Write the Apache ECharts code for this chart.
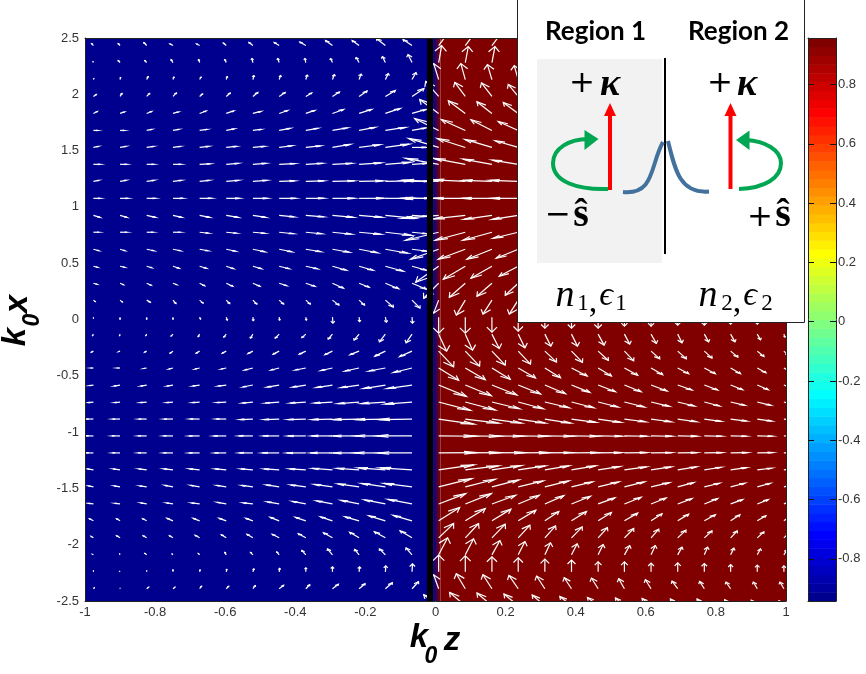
<!DOCTYPE html>
<html lang="en">
<head>
  <meta charset="UTF-8">
  <title>Spin-momentum field</title>
  <style>
    html, body { margin: 0; padding: 0; background: #fff; }
    #main { width: 866px; height: 674px; }
  </style>
</head>
<body>
<div id="main"></div>
<script src="https://cdn.jsdelivr.net/npm/echarts@6/dist/echarts.min.js"></script>
<script>
// arrow tails, k0z per column and k0x per row
var gridZ = [-0.976,-0.900,-0.824,-0.749,-0.673,-0.597,-0.521,-0.446,-0.370,-0.294,-0.218,-0.143,-0.067,
  0.009,0.085,0.161,0.236,0.312,0.388,0.464,0.539,0.615,0.691,0.767,0.842,0.918,0.994];
var gridX = [2.433,2.282,2.131,1.981,1.830,1.679,1.528,1.378,1.227,1.076,0.925,0.775,0.624,0.473,0.322,0.172,0.021,
  -0.130,-0.281,-0.431,-0.582,-0.733,-0.884,-1.034,-1.185,-1.336,-1.487,-1.638,-1.788,-1.939,-2.090,-2.241,-2.391,-2.542];

// field components, one line per row (top rows stop where the inset hides them)
var fieldU = [
  [-2,-2,-3,-3,-3,-3,-4,-5,-6,-7,-7,-9,-9,9,9,9],
  [-0.5,-2,-2,-2,-1,-1.5,-1,-1.5,-1,-2,-3,-3,-4,3,3,3],
  [0.5,0.5,1.5,1,1.5,1,1,1.5,1.5,2,2,3,4,-5,-4.5,-4.5,-4],
  [3,2,3,3.5,3,4,5,6,6,7,8,10,12,-13,-10.5,-10.5,-10],
  [4,4.5,5,5.5,6.5,7.5,8,8.5,9,11,12.5,15,14,-19,-17,-15,-15],
  [4,4,5,6,7.5,8,8,11,12,15,16,20,14,-24,-24,-21,-20],
  [5,6,7,7.5,9,10,11.5,13,14.7,17.7,20.7,23.7,14,-30,-28,-27,-23],
  [6.5,6.5,7,8,10.5,12,13,15.7,16.7,19.5,22,25,15,-33,-32,-29,-26],
  [5.3,6,7.5,8.5,10,12.5,14,15.3,18,22,24,27,17,-37,-32,-29,-28],
  [6.7,8,8.7,10,12,13,14.5,16.7,18,22,25,30,18,-38,-32,-30,-27],
  [6.7,7,8.7,8.7,10,12,13,15,18,21,23,30,15,-37,-32,-28,-26],
  [5.5,7,6.5,7.5,9,10.5,12,14.5,15.7,19,21.7,26,15,-33,-30,-29,-25],
  [5.5,5,7.3,7.5,8.5,9.5,12,12.7,15,16.7,18.5,22.5,15,-28,-27,-25,-22],
  [4,4.5,5,6,6.7,7.5,8.5,10,11.7,14,14,18,14.5,-23,-22,-21,-19],
  [3.5,3.5,4.5,4,5,6.5,7,7.7,9,11,10,13.3,14.5,-15,-16,-15,-13],
  [2,2.5,3.5,3,3.5,3.5,4,4.5,4.5,6.5,5.5,8,8,-5,-9,-9,-9],
  [0,0,0,0,1,1,0.5,0.5,0.5,0.5,0.5,1,0.5,0,0,0,0,0,0,0,0,0,0,0,0,0,0],
  [-1,-0.5,-1,-2,-1.5,-2.5,-2.5,-4,-4,-4.3,-5,-6,-6,8,7.3,7.3,6.7,6,6,6,5.3,5.3,4.3,4.3,4.3,3.3,1],
  [-2,-1.5,-2,-3,-3.5,-4,-5,-6,-6.5,-7.5,-9,-10.5,-12.5,15,14.3,13.3,12.3,11.7,11,10.3,9.3,8.7,8.7,7.7,7.3,6.7,4],
  [-2,-2.5,-3,-4,-4.5,-5,-8,-8,-10.5,-11.5,-14,-16.5,-18.5,20,20,18.3,17.3,15.7,15.7,13.3,13.3,11.7,11,11,10,8.7,7],
  [-4,-6,-6,-6,-7,-8,-10,-12,-13,-16,-18,-22,-25,27.7,26,25,22.3,20.7,18.3,17.3,16.7,16,14.3,13.3,12,11,9],
  [-5,-5,-6,-6,-7,-9.5,-10.5,-14,-15.5,-18,-21,-24,-27,31.7,30,27.7,25,24.3,22.3,20,20,18.3,16.7,15.3,14.3,13.7,11],
  [-7,-7.5,-8,-9,-9.5,-10,-12.5,-15,-18,-20.5,-26,-30,-33,35,33.3,29.3,27,25.7,24.3,22.7,21,20,18.7,16.7,16,14.3,12],
  [-7,-8,-8.5,-9.5,-10.5,-12.5,-14,-16,-18,-21,-26,-30,-35,37,35,31,29,27.7,26.7,24.3,22.7,21,19.3,17.7,16,15.3,13],
  [-7,-7.5,-8.5,-9.5,-10.5,-11.5,-13.5,-17,-19,-22,-26,-31,-34,38,35,33,30.7,27.7,27.7,23.3,22.7,21,19.3,17.7,16.7,15.3,13],
  [-6,-7,-8,-9,-10,-11,-12,-15,-16,-20,-22,-27,-32,35,33,29.3,27,24,24,21.7,22,20,18.7,17,16,14.3,12],
  [-5,-6,-7,-8,-9,-9.5,-11,-13,-15,-18,-21,-24,-28,33,30,27,25,24,21,20.7,20,18.3,16,15.3,14.3,13.3,11],
  [-5,-5,-6,-6.5,-8,-9,-9.5,-12,-13.5,-16,-18,-21,-24,27,26,23.7,21,19,19,16.7,16.7,15,14.3,13.3,12,11,9],
  [-4,-3.5,-4,-6,-6.5,-7,-7,-9,-10.5,-12,-14,-16.5,-19,21,20,19,17.7,14,15,13.3,13.3,11,11,11,9.3,8.7,7],
  [-2.5,-3.5,-3.5,-3.5,-4.5,-5,-6,-7,-7.5,-9,-9.5,-11,-12,15,13.3,13.3,11.7,10.7,10.7,9.3,9.3,7.7,8.3,7.7,6.7,6.7,6],
  [-1,-0.5,-2,-1,-1.5,-1.5,-2.5,-2.5,-4,-5,-4.5,-6,-6,9,8.3,8,6.7,5.7,5.7,5,5.3,4.3,4.3,3.3,3.3,3.3,3],
  [0,-0.5,0,0,0.5,0.5,1,0.5,0,0,0.5,0.5,0.5,0,0,0,0,0,0,0,0,0,0,0,0,0,0],
  [1,0,2,2,2,2.5,2.5,4.5,4,6,6,7,6.5,-5,-9,-9,-9.3,-8.3,-7.3,-6.7,-5.7,-5.7,-5.7,-4.7,-4.7,-4,-4],
  [0,0,0,0,0,0,0,0,0,0,0,0,0,-15,-15.7,-15,-14.3,-12.7,-11.7,-10.7,-9,-9,-7.3,-7.3,-6,-6,-5]
];
var fieldV = [
  [2,2,3,1.5,1.5,2.5,3,3,3.5,5,5,7,6,12,12,12],
  [1,2,2,3,3,3,4,4,4,4,5,6,8,17,16,16],
  [1,2,3,2.5,2.5,3,4,4,4.5,5,5.5,6,7,16,16,15,14],
  [2,3,3,3.5,2.5,3.5,4,4,3.5,4.5,5.5,6,8,15,14,13.5,12],
  [2,1.5,2,1.5,2.5,2.5,2,3,3,4,4,5,4,14,12.7,11.7,11],
  [0,0,1,1,1,1.5,1,2,2,2.5,3,3,2.5,12,11,10.7,9],
  [1,1,1,1,1,1,1,1.7,1.5,3,2.7,3.3,0,9,9,8,6.7],
  [0,0,0,0,0.5,1,1,0.7,1,1,1.5,2,1,6,6,5.3,4.3],
  [1,1,1,1,1,1,1,0.5,0.5,0.5,0.5,0.5,0,1,1.5,1,1],
  [0,0,0,0,0,0,0,0,0,0,0,0,0,0,0,0,0],
  [-2,-2,-2,-2,-2,-2,-2,-1.5,-1.5,-2,-2,-3,-1,-3,-3.5,-4,-4],
  [0,0,0,0,-1,-1,-1,-1.5,-1.5,-2,-2,-3,-1.5,-8,-8,-8,-6],
  [-1.5,-1.5,-1.5,-1.5,-1.5,-2,-2.5,-2.5,-2.5,-3,-3.5,-4,-2,-10,-10,-10,-9],
  [-1,-1,-1.5,-2,-2,-2.5,-2.5,-2.5,-2.5,-4,-4,-5,-4,-16,-13,-12,-10],
  [-1,-1.5,-2,-1.5,-2.5,-3,-3,-2.5,-3,-5,-4,-5.5,-6,-15,-14,-13,-12],
  [-1.5,-2,-2,-3.5,-3,-3.5,-4,-4,-4,-5,-5,-7,-8,-13,-15,-14,-14],
  [-1,-2,-2,-2,-2,-3,-3.5,-3,-3,-6,-4.5,-5,-6,-16,-16,-15,-14,-11,-11,-11,-9,-9,-8,-8,-7,-7,-4],
  [-1.5,-1.5,-1.5,-2,-2.5,-3,-4,-4,-3.5,-5,-6,-7.7,-8.7,-17,-16,-14.3,-13.7,-12,-12,-11,-10,-9.3,-8.7,-7.7,-7.7,-5.7,-3],
  [-1,-0.5,-1,-2,-2,-2,-2.5,-3,-3,-3.5,-3.5,-5,-5.5,-15.7,-15,-14,-13,-11,-11.3,-9.3,-9.7,-7.7,-7.7,-7,-6,-5.3,-4],
  [0,0,-0.5,-1,-1,-1,-2,-2,-2,-2.5,-3,-3,-4.5,-12.3,-11.7,-11.3,-10,-9.7,-8,-8,-7.3,-6.7,-5.7,-5.7,-5.7,-4.7,-4],
  [-0.5,-1,-1,-1,-1,-1,-2,-2,-2,-2.5,-2.5,-3.5,-3.5,-11.3,-10.7,-10,-9,-8.7,-7.3,-6.7,-6.7,-6,-5,-5,-4.7,-4.7,-4],
  [-0.5,-0.5,-0.5,-0.5,-0.5,-0.5,-1,-1,-1,-1,-1.5,-1.5,-2,-8.3,-8,-6.7,-6.7,-5.7,-5.7,-5,-5,-4.3,-4,-4,-3.3,-3.3,-3],
  [0,0,0,0,0,0,-0.5,-0.5,-0.5,-0.5,-0.5,-0.5,-0.5,-5,-4,-4,-4,-4,-3.3,-3.3,-2.7,-2.7,-2.7,-2.3,-2,-2,-2],
  [0,0,0,0,0,0,0,0,0,0,0,0,0,-0.3,-0.3,-0.3,-0.3,-0.3,-0.3,-0.3,-0.3,-0.3,-0.3,-0.3,-0.3,-0.3,-0.3],
  [0,0,0,0,0,0,0,0,0,0,0,0,0,0.3,0.3,0.3,0.3,0.3,0.3,0.3,0.3,0.3,0.3,0.3,0.3,0.3,0.3],
  [1,1,1,1,1,1,1,1,1,1.5,1.5,2,2,5,4,4.3,4,4,4,3.3,3,3,3,2.7,2.3,1.7,1.5],
  [1,1,1,1.5,1.5,1.5,1.5,2,2,2.5,3,3.5,3.5,8.3,7.7,7,6,6,5,5,5,4.3,4.3,3.7,3.7,3.7,3],
  [0.5,0.5,1,1,1,1.5,1,2,2.5,3,3.5,4,4.5,10.3,10.3,8.7,8.7,8.3,7.7,6,6.7,6,5.3,5.3,4.3,4.3,4],
  [2,2,2,2.5,2.5,2.5,2.5,3.5,3.5,4,4,5,5.5,13.3,12.3,11.7,10.7,9.3,9.3,8.3,7.7,7,6.7,6,6,5,5],
  [1.5,2,2,2,2.5,3,3.5,3.5,4,5,5.5,6,7,14.3,14.3,13.7,12.7,12,11,10.3,9.3,8.7,7.7,7,7,6,6],
  [0.5,1,1.5,1,1.5,2.5,2.5,3,4.5,6,5.5,6,7,17,16,14.3,13.3,12,11,10.3,9.3,9.3,7.7,7.7,6.7,6,5],
  [1,0.5,1,2,2,2.5,3,3.5,4,5,5,6,8,16.7,16,15,14,12.7,11.7,10,10,8.7,9,8.3,7.3,6.7,6],
  [1,0.5,1.5,1.5,2.5,2.5,3,3.5,4,4.5,5,6,7,14,15,14,13.3,12.7,11,10.7,10,9,7.7,7.3,6.7,6.7,6.7],
  [0,0,0,0,0,0,0,0,0,0,0,0,0,11,13.3,12.7,11.7,10.7,9.3,8.3,7.7,7.3,6.7,6.7,6,5.5,5]
];

// background: field sign either side of the interface, with the short blend between them
var bgEdges = [-1, -0.007, 0.014, 1];
var bgValues = [-0.95, 0.95];
var interfaceEdges = [-0.0243, -0.007];

var xTickFont = 13;
var cbarMin = -0.942, cbarMax = 0.957;
var cbarTicks = [-0.8, -0.6, -0.4, -0.2, 0, 0.2, 0.4, 0.6, 0.8];
// jet, 64 steps
var jet64 = ['#00008f','#0000a0','#0000af','#0000bf','#0000cf','#0000df','#0000ef','#0000ff',
  '#0010ff','#0020ff','#0030ff','#0040ff','#0050ff','#0060ff','#0070ff','#0080ff',
  '#008fff','#009fff','#00afff','#00bfff','#00cfff','#00dfff','#00efff','#00ffff',
  '#10ffef','#20ffdf','#30ffcf','#40ffbf','#50ffaf','#60ff9f','#70ff8f','#80ff80',
  '#8fff70','#9fff60','#afff50','#bfff40','#cfff30','#dfff20','#efff10','#ffff00',
  '#ffef00','#ffdf00','#ffcf00','#ffbf00','#ffaf00','#ff9f00','#ff8f00','#ff8000',
  '#ff7000','#ff6000','#ff5000','#ff4000','#ff3000','#ff2000','#ff1000','#ff0000',
  '#ef0000','#df0000','#cf0000','#bf0000','#af0000','#9f0000','#8f0000','#800000'];

var quiverScaleZ = 1 / 350.5, quiverScaleX = 1 / 112.6;
var headAlpha = 0.33, headBeta = 0.33;

function jetColor(v) {
  var i = Math.floor((v - cbarMin) / (cbarMax - cbarMin) * 64);
  return jet64[Math.max(0, Math.min(63, i))];
}

var arrowData = [];
for (var r = 0; r < fieldU.length; r++) {
  for (var c = 0; c < fieldU[r].length; c++) {
    if (fieldU[r][c] === 0 && fieldV[r][c] === 0) continue;
    arrowData.push([gridZ[c], gridX[r], fieldU[r][c] * quiverScaleZ, fieldV[r][c] * quiverScaleX]);
  }
}

var myChart = echarts.init(document.getElementById('main'), null, { renderer: 'canvas' });

function renderBackground(params, api) {
  var i = api.value(0);
  var a = api.coord([bgEdges[i], 2.5]), b = api.coord([bgEdges[i + 1], -2.5]);
  var fill;
  if (i === 0) fill = jetColor(bgValues[0]);
  else if (i === 2) fill = jetColor(bgValues[1]);
  else fill = { type: 'linear', x: 0, y: 0, x2: 1, y2: 0, colorStops: [
    { offset: 0, color: jetColor(bgValues[0]) }, { offset: 1, color: jetColor(bgValues[1]) }] };
  return { type: 'rect', shape: { x: a[0], y: a[1], width: b[0] - a[0], height: b[1] - a[1] }, style: { fill: fill } };
}

function renderInterface(params, api) {
  var a = api.coord([interfaceEdges[0], 2.5]), b = api.coord([interfaceEdges[1], -2.5]);
  return { type: 'rect', shape: { x: a[0], y: a[1], width: b[0] - a[0], height: b[1] - a[1] }, style: { fill: '#000' } };
}

// same arrow shape as matlab quiver, built in data units
function renderArrow(params, api) {
  var z = api.value(0), x = api.value(1), u = api.value(2), v = api.value(3);
  var tz = z + u, tx = x + v;
  var b1 = api.coord([tz - headAlpha * (u + headBeta * v), tx - headAlpha * (v - headBeta * u)]);
  var b2 = api.coord([tz - headAlpha * (u - headBeta * v), tx - headAlpha * (v + headBeta * u)]);
  var tail = api.coord([z, x]), tip = api.coord([tz, tx]);
  var st = { stroke: '#fff', lineWidth: 1.2, fill: null };
  return { type: 'group', children: [
    { type: 'line', shape: { x1: tail[0], y1: tail[1], x2: tip[0], y2: tip[1] }, style: st },
    { type: 'polyline', shape: { points: [b1, tip, b2] }, style: st }
  ] };
}

function renderColorbar(params, api) {
  var i = api.value(0);
  var h = (cbarMax - cbarMin) / 64;
  var a = api.coord([0, cbarMin + h * (i + 1)]), b = api.coord([1, cbarMin + h * i]);
  return { type: 'rect', shape: { x: a[0], y: a[1], width: b[0] - a[0], height: b[1] - a[1] + 0.5 }, style: { fill: jet64[i] } };
}

var tickText = { color: '#333', fontFamily: 'Liberation Sans', fontSize: xTickFont };
var axisEdge = { show: true, onZero: false, lineStyle: { color: '#222', width: 1 } };

function txt(x, y, text, size, opts) {
  opts = opts || {};
  return { type: 'text', x: x, y: y, z: 12, rotation: opts.rotation || 0, style: {
    text: text, fill: '#000', align: 'center', verticalAlign: 'middle',
    font: (opts.style || '') + ' ' + size + 'px "' + (opts.family || 'Liberation Serif') + '"'
  } };
}
function stroke(type, shape, color, width) {
  return { type: type, z: 12, shape: shape, style: { stroke: color, lineWidth: width, fill: null } };
}
function tri(points, color) {
  return { type: 'polygon', z: 13, shape: { points: points }, style: { fill: color } };
}

var nameFont = { style: 'italic bold', family: 'Liberation Sans' };
var nameFontUp = { style: 'italic bold', family: 'Liberation Sans', rotation: Math.PI / 2 };
var axisNames = [
  txt(419, 638, 'k', 33, nameFont),
  txt(431, 657, '0', 23, nameFont),
  txt(452, 641, 'z', 33, nameFont),
  txt(16, 337, 'k', 33, nameFontUp),
  txt(33, 320, '0', 23, nameFontUp),
  txt(18, 304, 'x', 33, nameFontUp)
];

var red = '#ff0000', green = '#00a651', curve = '#41719c';
var insetElements = [
  { type: 'rect', z: 10, shape: { x: 517.5, y: -1, width: 287, height: 323.5 }, style: { fill: '#fff', stroke: '#222', lineWidth: 1 } },
  { type: 'rect', z: 11, shape: { x: 537, y: 59, width: 125, height: 204 }, style: { fill: '#f2f2f2' } },
  stroke('line', { x1: 665, y1: 58, x2: 665, y2: 254 }, '#000', 2),
  txt(595.5, 32, 'Region 1', 26, { style: 'bold', family: 'Lato' }),
  txt(738.5, 32, 'Region 2', 26, { style: 'bold', family: 'Lato' }),
  txt(582, 84, '+', 31, { family: 'DejaVu Sans' }),
  txt(610, 85, 'κ', 38, { style: 'italic bold' }),
  txt(720, 84, '+', 31, { family: 'DejaVu Sans' }),
  txt(747, 85, 'κ', 38, { style: 'italic bold' }),
  txt(558, 216, '−', 31, { family: 'DejaVu Sans' }),
  txt(581, 216, 'ŝ', 40, { style: 'bold' }),
  txt(760, 218, '+', 31, { family: 'DejaVu Sans' }),
  txt(783, 216, 'ŝ', 40, { style: 'bold' }),
  // red arrows
  stroke('line', { x1: 610, y1: 190, x2: 610, y2: 112 }, red, 4),
  tri([[610, 103], [604, 116], [616, 116]], red),
  stroke('line', { x1: 730.5, y1: 189, x2: 730.5, y2: 112 }, red, 4),
  tri([[730.5, 103], [724.5, 116], [736.5, 116]], red),
  // green loops
  stroke('bezierCurve', { x1: 608, y1: 189, cpx1: 578, cpy1: 190, cpx2: 553, cpy2: 182, x2: 553, y2: 163 }, green, 4),
  stroke('bezierCurve', { x1: 553, y1: 163, cpx1: 553, cpy1: 148, cpx2: 570, cpy2: 139, x2: 588, y2: 139 }, green, 4),
  tri([[598.5, 139], [584.5, 130], [584.5, 150]], green),
  stroke('bezierCurve', { x1: 739, y1: 189, cpx1: 765, cpy1: 188, cpx2: 781, cpy2: 178, x2: 781, y2: 163 }, green, 4),
  stroke('bezierCurve', { x1: 781, y1: 163, cpx1: 781, cpy1: 150, cpx2: 765, cpy2: 141, x2: 746, y2: 140 }, green, 4),
  tri([[736, 140], [749.5, 130.5], [749.5, 150]], green),
  // surface wave profile
  stroke('bezierCurve', { x1: 623, y1: 192, cpx1: 655, cpy1: 195, cpx2: 650, cpy2: 165, x2: 663, y2: 142 }, curve, 4),
  stroke('bezierCurve', { x1: 668, y1: 141, cpx1: 675, cpy1: 170, cpx2: 680, cpy2: 194, x2: 709, y2: 191.5 }, curve, 4),
  // material labels
  txt(565, 296, 'n', 38, { style: 'italic' }),
  txt(583, 304, '1', 23),
  txt(593, 303, ',', 34),
  txt(606, 296, 'ϵ', 34, { style: 'italic' }),
  txt(621, 304, '1', 23),
  txt(708, 296, 'n', 38, { style: 'italic' }),
  txt(727, 304, '2', 23),
  txt(737, 303, ',', 34),
  txt(750, 296, 'ϵ', 34, { style: 'italic' }),
  txt(767, 304, '2', 23)
];

var option = {
  animation: false,
  backgroundColor: '#fff',
  grid: [
    { left: 85, top: 38, width: 701, height: 563, outerBoundsMode: 'none' },
    { left: 808, top: 38, width: 28, height: 563, outerBoundsMode: 'none' }
  ],
  xAxis: [
    { gridIndex: 0, z: 5, type: 'value', min: -1, max: 1, interval: 0.2, splitLine: { show: false }, axisTick: { show: false },
      axisLine: axisEdge, axisLabel: Object.assign({ margin: 5 }, tickText) },
    { gridIndex: 0, z: 5, type: 'value', position: 'top', min: -1, max: 1, splitLine: { show: false }, axisTick: { show: false }, axisLabel: { show: false }, axisLine: axisEdge },
    { gridIndex: 1, z: 5, type: 'value', min: 0, max: 1, splitLine: { show: false }, axisTick: { show: false }, axisLabel: { show: false }, axisLine: axisEdge },
    { gridIndex: 1, z: 5, type: 'value', position: 'top', min: 0, max: 1, splitLine: { show: false }, axisTick: { show: false }, axisLabel: { show: false }, axisLine: axisEdge }
  ],
  yAxis: [
    { gridIndex: 0, z: 5, type: 'value', min: -2.5, max: 2.5, interval: 0.5, splitLine: { show: false }, axisTick: { show: false },
      axisLine: axisEdge, axisLabel: Object.assign({ margin: 6 }, tickText) },
    { gridIndex: 0, z: 5, type: 'value', position: 'right', min: -2.5, max: 2.5, splitLine: { show: false }, axisTick: { show: false }, axisLabel: { show: false }, axisLine: axisEdge },
    { gridIndex: 1, z: 5, type: 'value', position: 'right', min: cbarMin, max: cbarMax, splitLine: { show: false },
      axisLine: axisEdge, axisTick: { show: true, inside: true, length: 6, lineStyle: { color: '#111' }, customValues: cbarTicks },
      axisLabel: Object.assign({ margin: 2, customValues: cbarTicks, formatter: function (v) { return String(+v.toFixed(1)); } }, tickText) },
    { gridIndex: 1, z: 5, type: 'value', position: 'left', min: cbarMin, max: cbarMax, splitLine: { show: false }, axisLabel: { show: false },
      axisLine: axisEdge, axisTick: { show: true, inside: true, length: 6, lineStyle: { color: '#111' }, customValues: cbarTicks } }
  ],
  series: [
    { type: 'custom', xAxisIndex: 0, yAxisIndex: 0, z: 1, silent: true, renderItem: renderBackground, data: [[0], [1], [2]], encode: { x: 0 } },
    { type: 'custom', xAxisIndex: 0, yAxisIndex: 0, z: 2, clip: true, silent: true, renderItem: renderArrow, data: arrowData, encode: { x: 0, y: 1 } },
    { type: 'custom', xAxisIndex: 0, yAxisIndex: 0, z: 3, silent: true, renderItem: renderInterface, data: [[0]], encode: { x: 0 } },
    { type: 'custom', xAxisIndex: 2, yAxisIndex: 2, z: 1, silent: true, renderItem: renderColorbar,
      data: jet64.map(function (c, i) { return [i]; }), encode: { y: 0 } }
  ],
  graphic: { elements: insetElements.concat(axisNames) }
};

myChart.setOption(option);
</script>
</body>
</html>
